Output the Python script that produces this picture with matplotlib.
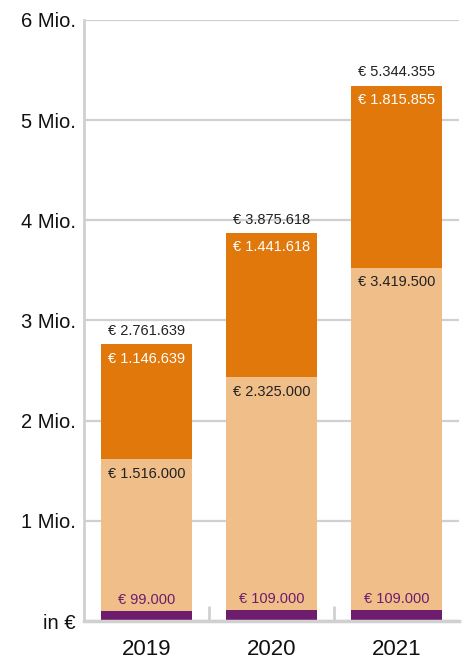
import matplotlib.pyplot as plt

years = ['2019', '2020', '2021']
purple_vals = [99000, 109000, 109000]
light_vals = [1516000, 2325000, 3419500]
dark_vals = [1146639, 1441618, 1815855]
y_ticks = [0, 1000000, 2000000, 3000000, 4000000, 5000000, 6000000]
y_tick_labels = ['in €', '1 Mio.', '2 Mio.', '3 Mio.', '4 Mio.', '5 Mio.', '6 Mio.']

c_purple = '#6e1c6e'
c_light = '#f0be89'
c_dark = '#e0780c'
c_grid = '#d0d0d0'


def fmt(v):
    return '€ ' + f'{v:,}'.replace(',', '.')


plt.rcParams['font.family'] = ['Liberation Sans', 'DejaVu Sans']

fig = plt.figure(figsize=(4.66, 6.63), dpi=100)
ax = fig.add_axes([0.180, 0.0633, 0.805, 0.9067])

x = list(range(len(years)))
w = 0.73
light_bottom = purple_vals
dark_bottom = [p + l for p, l in zip(purple_vals, light_vals)]
totals = [d + b for d, b in zip(dark_vals, dark_bottom)]

ax.bar(x, purple_vals, w, color=c_purple, zorder=3)
ax.bar(x, light_vals, w, bottom=light_bottom, color=c_light, zorder=3)
ax.bar(x, dark_vals, w, bottom=dark_bottom, color=c_dark, zorder=3)

fs = 10.5
for i in x:
    ax.annotate(fmt(totals[i]), (i, totals[i]), xytext=(0, 9.5), textcoords='offset points',
                ha='center', va='center', fontsize=fs, color='#222222')
    ax.annotate(fmt(dark_vals[i]), (i, totals[i]), xytext=(0, -10.5), textcoords='offset points',
                ha='center', va='center', fontsize=fs, color='white')
    ax.annotate(fmt(light_vals[i]), (i, dark_bottom[i]), xytext=(0, -10.5), textcoords='offset points',
                ha='center', va='center', fontsize=fs, color='#222222')
    ax.annotate(fmt(purple_vals[i]), (i, purple_vals[i]), xytext=(0, 8), textcoords='offset points',
                ha='center', va='center', fontsize=fs, color=c_purple)

ax.set_xlim(-0.5, 2.5)
ax.set_ylim(0, 6000000)
ax.set_yticks(y_ticks)
ax.set_yticklabels(y_tick_labels)
ax.set_xticks(x)
ax.set_xticklabels(years)
ax.set_xticks([0.5, 1.5], minor=True)

ax.tick_params(axis='y', length=0, pad=6, labelsize=14.5, labelcolor='#111111')
ax.tick_params(axis='x', which='major', length=0, pad=13, labelsize=16, labelcolor='#111111')
ax.tick_params(axis='x', which='minor', direction='in', length=11, width=2, color=c_grid)

ax.yaxis.grid(True, color=c_grid, linewidth=1.6, zorder=0)
ax.set_axisbelow(True)

ax.spines['top'].set_visible(False)
ax.spines['right'].set_visible(False)
ax.spines['left'].set_color(c_grid)
ax.spines['left'].set_linewidth(2)
ax.spines['bottom'].set_color(c_grid)
ax.spines['bottom'].set_linewidth(2.5)
ax.spines['bottom'].set_zorder(4)

fig.savefig('out.png', dpi=100)
